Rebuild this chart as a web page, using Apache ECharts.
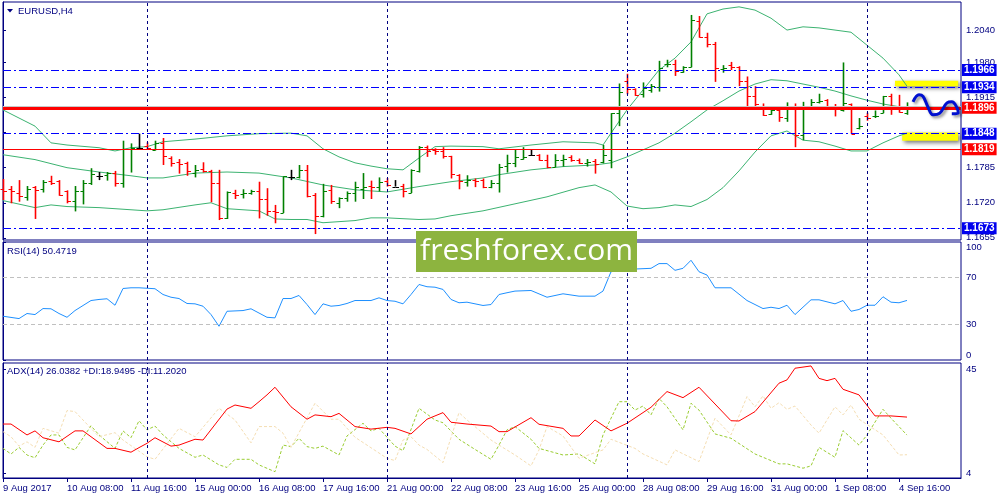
<!DOCTYPE html>
<html><head><meta charset="utf-8">
<script src="https://cdn.jsdelivr.net/npm/echarts@6/dist/echarts.min.js"></script>
<style>html,body{margin:0;padding:0;background:#fff}#c{width:1000px;height:500px}</style>
</head><body><div id="c"></div>
<script>
const opens=[1.1746,1.1746,1.1738,1.1730,1.1749,1.1745,1.1761,1.1761,1.1741,1.1724,1.1742,1.1757,1.1770,1.1772,1.1776,1.1756,1.1819,1.1821,1.1825,1.1818,1.1830,1.1803,1.1795,1.1793,1.1775,1.1782,1.1779,1.1757,1.1691,1.1738,1.1737,1.1739,1.1742,1.1727,1.1704,1.1701,1.1767,1.1767,1.1781,1.1735,1.1695,1.1743,1.1719,1.1728,1.1739,1.1745,1.1751,1.1749,1.1761,1.1750,1.1751,1.1739,1.1778,1.1823,1.1817,1.1815,1.1806,1.1772,1.1759,1.1763,1.1762,1.1750,1.1757,1.1788,1.1794,1.1802,1.1809,1.1809,1.1800,1.1787,1.1799,1.1804,1.1799,1.1793,1.1798,1.1795,1.1800,1.1887,1.1945,1.1930,1.1922,1.1929,1.1934,1.1977,1.1978,1.1963,1.1972,1.2057,1.2028,1.2015,1.1967,1.1975,1.1972,1.1945,1.1918,1.1895,1.1885,1.1892,1.1877,1.1895,1.1846,1.1895,1.1906,1.1910,1.1897,1.1891,1.1903,1.1858,1.1881,1.1880,1.1887,1.1917,1.1897,1.1887];
const highs=[1.1764,1.1751,1.1762,1.1751,1.1751,1.1762,1.1770,1.1762,1.1743,1.1751,1.1762,1.1784,1.1777,1.1777,1.1779,1.1835,1.1830,1.1848,1.1832,1.1835,1.1840,1.1806,1.1801,1.1796,1.1790,1.1795,1.1781,1.1781,1.1741,1.1744,1.1745,1.1744,1.1759,1.1747,1.1716,1.1769,1.1781,1.1790,1.1790,1.1738,1.1755,1.1753,1.1730,1.1741,1.1759,1.1775,1.1761,1.1767,1.1766,1.1762,1.1755,1.1782,1.1825,1.1826,1.1821,1.1823,1.1807,1.1773,1.1771,1.1765,1.1765,1.1762,1.1792,1.1809,1.1819,1.1823,1.1818,1.1810,1.1809,1.1810,1.1809,1.1808,1.1802,1.1801,1.1801,1.1827,1.1886,1.1941,1.1959,1.1932,1.1943,1.1940,1.1983,1.1985,1.1985,1.1973,1.2068,1.2066,1.2035,1.2018,1.1975,1.1981,1.1973,1.1954,1.1936,1.1904,1.1895,1.1893,1.1906,1.1904,1.1907,1.1912,1.1922,1.1912,1.1903,1.1980,1.1904,1.1877,1.1887,1.1891,1.1918,1.1922,1.1920,1.1906];
const lows=[1.1725,1.1719,1.1722,1.1724,1.1690,1.1739,1.1753,1.1733,1.1719,1.1704,1.1717,1.1753,1.1762,1.1761,1.1750,1.1748,1.1776,1.1819,1.1819,1.1817,1.1790,1.1787,1.1774,1.1770,1.1767,1.1776,1.1721,1.1688,1.1690,1.1727,1.1728,1.1735,1.1691,1.1696,1.1682,1.1701,1.1762,1.1765,1.1730,1.1662,1.1693,1.1718,1.1710,1.1722,1.1722,1.1727,1.1727,1.1741,1.1750,1.1750,1.1730,1.1738,1.1776,1.1805,1.1809,1.1802,1.1765,1.1745,1.1750,1.1749,1.1747,1.1747,1.1739,1.1776,1.1786,1.1800,1.1807,1.1798,1.1784,1.1786,1.1787,1.1796,1.1792,1.1787,1.1774,1.1793,1.1784,1.1862,1.1921,1.1918,1.1915,1.1924,1.1926,1.1971,1.1955,1.1961,1.1971,1.2026,1.2008,1.1944,1.1961,1.1966,1.1936,1.1895,1.1895,1.1881,1.1883,1.1870,1.1870,1.1823,1.1836,1.1893,1.1904,1.1895,1.1880,1.1889,1.1848,1.1856,1.1872,1.1877,1.1886,1.1883,1.1887,1.1883];
const closes=[1.1742,1.1741,1.1733,1.1745,1.1744,1.1759,1.1757,1.1735,1.1724,1.1742,1.1757,1.1774,1.1770,1.1775,1.1756,1.1819,1.1822,1.1821,1.1821,1.1830,1.1806,1.1793,1.1792,1.1778,1.1781,1.1778,1.1757,1.1691,1.1740,1.1735,1.1739,1.1742,1.1727,1.1705,1.1702,1.1769,1.1767,1.1781,1.1732,1.1695,1.1741,1.1724,1.1728,1.1739,1.1749,1.1749,1.1749,1.1759,1.1753,1.1750,1.1741,1.1781,1.1823,1.1815,1.1815,1.1807,1.1773,1.1761,1.1763,1.1761,1.1750,1.1757,1.1787,1.1793,1.1804,1.1805,1.1809,1.1800,1.1786,1.1800,1.1802,1.1799,1.1794,1.1796,1.1792,1.1809,1.1886,1.1926,1.1930,1.1920,1.1932,1.1936,1.1969,1.1978,1.1965,1.1972,1.2058,1.2028,1.2015,1.1969,1.1969,1.1972,1.1945,1.1918,1.1903,1.1883,1.1892,1.1878,1.1895,1.1846,1.1895,1.1907,1.1909,1.1899,1.1893,1.1904,1.1848,1.1862,1.1877,1.1881,1.1917,1.1897,1.1889,1.1897];

const bandUpper=[[0,1.1892],[4,1.1862],[6,1.1831],[8,1.1827],[12,1.1822],[14,1.1816],[16,1.1822],[18,1.1824],[20,1.1833],[24,1.1838],[28,1.1844],[32,1.1848],[36,1.1849],[38,1.1844],[40,1.1820],[42,1.1805],[44,1.1794],[46,1.1788],[48,1.1783],[50,1.1781],[52,1.1803],[54,1.1824],[56,1.1825],[60,1.1824],[62,1.1820],[66,1.1827],[70,1.1833],[74,1.1831],[75,1.1827],[76,1.1849],[78,1.1892],[80,1.1929],[82,1.1966],[84,1.1988],[86,1.2018],[88,1.2070],[90,1.2079],[92,1.2083],[94,1.2077],[96,1.2062],[98,1.2040],[100,1.2046],[102,1.2044],[104,1.2040],[106,1.2036],[108,1.2012],[110,1.1988],[112,1.1957],[113,1.1936]];
const bandMiddle=[[0,1.1809],[4,1.1800],[8,1.1785],[12,1.1777],[16,1.1770],[18,1.1766],[20,1.1766],[24,1.1775],[28,1.1777],[32,1.1775],[36,1.1766],[40,1.1753],[44,1.1744],[48,1.1740],[52,1.1750],[56,1.1759],[60,1.1766],[62,1.1772],[66,1.1781],[70,1.1787],[74,1.1790],[76,1.1794],[78,1.1805],[80,1.1818],[82,1.1831],[84,1.1849],[86,1.1870],[88,1.1892],[90,1.1909],[92,1.1927],[94,1.1940],[96,1.1948],[98,1.1946],[100,1.1940],[102,1.1934],[104,1.1927],[106,1.1918],[108,1.1910],[110,1.1903],[112,1.1898],[113,1.1896]];
const bandLower=[[0,1.1724],[4,1.1711],[6,1.1716],[8,1.1713],[12,1.1711],[16,1.1707],[18,1.1705],[20,1.1707],[24,1.1716],[26,1.1720],[28,1.1709],[32,1.1705],[34,1.1690],[36,1.1689],[38,1.1689],[40,1.1683],[44,1.1687],[46,1.1692],[48,1.1692],[52,1.1689],[54,1.1690],[56,1.1696],[60,1.1705],[64,1.1718],[68,1.1731],[72,1.1748],[74,1.1753],[76,1.1740],[78,1.1714],[80,1.1709],[82,1.1711],[84,1.1716],[86,1.1713],[88,1.1726],[90,1.1748],[92,1.1779],[94,1.1814],[96,1.1844],[98,1.1853],[100,1.1836],[102,1.1833],[104,1.1825],[106,1.1816],[108,1.1816],[110,1.1831],[112,1.1844],[113,1.1849]];

const rsiValues=[[0,37.1],[2,35.1],[3,39.4],[4,38.5],[5,43.6],[6,43.4],[7,39.4],[8,36.2],[9,41.9],[11,50.4],[12,51.3],[13,51.9],[14,46.4],[15,60.6],[16,61.2],[17,61.2],[19,60.4],[20,55.5],[21,53.2],[22,52.1],[23,47.9],[24,47.6],[25,45.6],[26,38.5],[27,28.6],[28,41.3],[30,41.9],[31,43.4],[33,36.2],[34,35.7],[35,52.1],[36,52.1],[37,54.7],[38,47.0],[39,38.5],[40,47.6],[41,45.6],[42,46.2],[43,47.9],[44,50.4],[46,50.4],[47,52.7],[48,50.4],[49,49.8],[50,47.6],[51,55.5],[52,64.0],[53,62.1],[54,61.7],[55,59.8],[56,51.3],[57,48.5],[58,49.0],[60,46.2],[61,47.0],[62,55.5],[63,57.0],[64,58.4],[66,58.9],[68,53.2],[70,56.1],[72,54.1],[74,54.1],[75,58.4],[76,74.8],[78,76.8],[81,77.7],[82,81.7],[83,81.7],[84,76.0],[85,77.7],[86,84.5],[87,74.8],[88,72.0],[89,61.2],[91,61.2],[93,50.4],[95,43.6],[96,44.7],[97,43.6],[98,46.4],[99,38.5],[101,51.0],[102,51.0],[104,47.6],[105,50.4],[106,41.3],[107,42.8],[108,46.4],[109,46.4],[110,53.6],[111,49.0],[112,48.5],[113,50.4719]];
const adxValues=[[0,23.3],[1,23.3],[3,19.0],[4,20.6],[5,17.9],[7,16.3],[9,20.6],[10,20.6],[13,13.7],[14,13.7],[16,12.2],[17,14.0],[18,15.7],[19,17.9],[21,14.6],[22,15.0],[24,17.3],[25,17.0],[28,29.2],[29,30.8],[31,29.5],[32,32.1],[33,34.8],[34,37.8],[36,30.1],[38,25.2],[39,26.9],[41,26.2],[42,27.5],[44,22.3],[46,21.3],[48,22.0],[49,21.6],[51,19.4],[53,25.2],[55,27.8],[56,24.0],[58,23.3],[61,22.5],[62,20.3],[63,20.3],[66,25.8],[67,23.2],[70,21.6],[71,18.6],[72,18.6],[74,24.9],[76,20.6],[78,23.6],[81,29.9],[83,36.1],[85,33.7],[87,37.8],[91,24.6],[92,24.5],[94,28.2],[97,39.4],[98,40.7],[99,45.3],[101,46.2],[102,41.3],[103,40.4],[104,41.3],[105,37.0],[107,34.8],[109,26.5],[111,26.5],[113,26.0382]];
const plusDI=[[0,13.7],[1,11.5],[2,14.1],[3,11.1],[4,10.0],[5,15.0],[6,19.0],[7,19.0],[8,14.1],[9,13.1],[11,22.6],[12,19.0],[14,13.7],[15,20.6],[16,17.9],[17,24.6],[18,21.0],[19,22.5],[20,19.0],[22,13.7],[24,10.2],[25,11.1],[27,7.2],[28,6.2],[29,9.4],[31,9.4],[32,7.2],[34,4.5],[35,15.0],[36,14.4],[37,17.7],[38,14.4],[39,13.7],[40,14.6],[42,11.1],[43,18.6],[45,23.6],[46,20.6],[47,21.6],[49,14.6],[50,12.8],[52,29.5],[54,24.9],[55,23.8],[57,17.3],[59,13.3],[61,9.4],[62,15.0],[63,21.0],[64,22.3],[66,17.3],[67,13.7],[70,11.1],[72,11.5],[74,7.6],[75,19.0],[77,32.1],[78,32.1],[79,28.8],[80,30.4],[81,26.9],[82,33.4],[83,30.1],[85,21.0],[86,31.5],[87,28.8],[89,19.4],[91,17.7],[94,11.5],[97,7.6],[98,7.6],[100,5.9],[101,6.8],[102,14.1],[104,10.2],[105,20.7],[107,15.0],[108,19.0],[110,29.1],[111,25.6],[113,18.9495]];
const minusDI=[[0,20.3],[1,18.3],[2,14.6],[3,16.3],[4,14.1],[5,21.6],[7,19.7],[8,28.6],[9,28.2],[12,18.3],[14,19.9],[15,17.0],[18,10.4],[19,9.4],[22,21.6],[24,18.3],[25,22.0],[27,29.5],[29,24.9],[31,15.9],[32,22.3],[34,22.3],[35,19.7],[36,14.1],[39,31.5],[41,25.2],[42,25.2],[44,18.1],[48,9.8],[49,8.9],[50,17.0],[51,18.3],[52,15.0],[53,13.3],[55,8.1],[57,27.8],[58,24.9],[61,17.0],[62,15.0],[64,11.1],[66,6.8],[67,13.1],[68,22.3],[70,18.6],[72,9.8],[75,13.1],[76,17.3],[79,13.7],[80,11.5],[83,7.2],[84,13.1],[87,8.5],[89,25.6],[91,19.0],[93,34.1],[94,30.1],[95,34.4],[96,29.5],[97,31.7],[98,29.1],[99,30.4],[101,22.9],[102,19.7],[104,30.1],[105,26.9],[106,30.8],[107,25.2],[110,19.0],[112,11.1],[113,11.202]];

const xTickIdx=[0,8,16,24,32,40,48,56,64,72,80,88,96,104,112];
const xTickLabels=['9 Aug 2017','10 Aug 08:00','11 Aug 16:00','15 Aug 00:00','16 Aug 08:00','17 Aug 16:00','21 Aug 00:00','22 Aug 08:00','23 Aug 16:00','25 Aug 00:00','28 Aug 08:00','29 Aug 16:00','31 Aug 00:00','1 Sep 08:00','4 Sep 16:00'];
const priceTicks=[1.1655,1.1720,1.1785,1.1850,1.1915,1.1980,1.2040];
const rsiTicks=[0,30,70,100];
const adxTicks=[4,45];
const weekStarts=[18,48,78,108];
const blueLevels=[1.1966,1.1934,1.1848,1.1673];
const redLevels=[1.1896,1.1819];
const bidLine=1.1899;
const forecastWave=[[113.75,1.1907],[114.5,1.1920],[115,1.1917],[115.6,1.1898],[116.25,1.1883],[117.1,1.1886],[118,1.1905],[118.6,1.1907],[119.25,1.1896],[119.4,1.1886],[118.6,1.1885]];
const highlightZones=[[[111.5,1.1946],[119.4,1.1936]],[[112.4,1.1850],[119.4,1.1835]]];

const NAVY='#000080';
const FONT='Liberation Sans';
const xMax=119.75;
const labelMap={};xTickIdx.forEach((v,k)=>labelMap[v]=xTickLabels[k]);

const chart=echarts.init(document.getElementById('c'));

const weekLine={silent:true,symbol:['none','none'],label:{show:false},animation:false,precision:4,
  lineStyle:{color:NAVY,type:[3,3],width:1},data:weekStarts.map(v=>({xAxis:v}))};

const boxLabel=(bg)=>({show:true,position:'end',distance:1,backgroundColor:bg,color:'#fff',padding:[1,2,0,2],fontFamily:FONT,fontSize:10,fontWeight:'bold',lineHeight:11,formatter:p=>Number(p.value).toFixed(4)});
const levelData=[{yAxis:bidLine,lineStyle:{color:'#c8c8c8',width:1,type:'solid'},label:{show:false}}];
blueLevels.forEach(v=>levelData.push({yAxis:v,lineStyle:{color:'#0000ff',width:1,type:[8,3,2,3]},label:boxLabel('#0000ee')}));
redLevels.forEach((v,k)=>levelData.push({yAxis:v,lineStyle:{color:'#ff0000',width:k===0?3:1,type:'solid'},label:boxLabel('#ff0000')}));

const hiddenX=(g)=>({gridIndex:g,type:'value',min:0,max:xMax,axisLine:{show:false},axisTick:{show:false},axisLabel:{show:false},splitLine:{show:false}});

const option={
  animation:false,
  backgroundColor:'#fff',
  grid:[
    {left:3,right:39,top:2,height:238,show:true,borderColor:NAVY,borderWidth:1},
    {left:3,right:39,top:242,height:118,show:true,borderColor:NAVY,borderWidth:1},
    {left:3,right:39,top:363,height:115,show:true,borderColor:NAVY,borderWidth:1}
  ],
  xAxis:[hiddenX(0),hiddenX(1),
    {gridIndex:2,type:'value',min:0,max:xMax,
     axisLine:{show:true,lineStyle:{color:NAVY}},
     axisTick:{show:true,customValues:xTickIdx,length:4,lineStyle:{color:NAVY}},
     axisLabel:{customValues:xTickIdx,formatter:v=>labelMap[Math.round(v)]||'',align:'left',color:NAVY,fontFamily:FONT,fontSize:9.5,margin:5},
     splitLine:{show:false}}],
  yAxis:[
    {gridIndex:0,type:'value',position:'right',min:1.1651,max:1.2092,
     axisLine:{show:true,lineStyle:{color:NAVY}},
     axisTick:{show:true,customValues:priceTicks,length:3,lineStyle:{color:NAVY}},
     axisLabel:{customValues:priceTicks,formatter:v=>v.toFixed(4),color:NAVY,fontFamily:FONT,fontSize:9.5,margin:5},
     splitLine:{show:false}},
    {gridIndex:1,type:'value',position:'right',min:0,max:100,
     axisLine:{show:true,lineStyle:{color:NAVY}},
     axisTick:{show:true,customValues:rsiTicks,length:3,lineStyle:{color:NAVY}},
     axisLabel:{customValues:rsiTicks,color:NAVY,fontFamily:FONT,fontSize:9.5,margin:5,verticalAlignMaxLabel:'top',verticalAlignMinLabel:'bottom'},
     splitLine:{show:false}},
    {gridIndex:2,type:'value',position:'right',min:2.03,max:47.36,
     axisLine:{show:true,lineStyle:{color:NAVY}},
     axisTick:{show:true,customValues:adxTicks,length:3,lineStyle:{color:NAVY}},
     axisLabel:{customValues:adxTicks,color:NAVY,fontFamily:FONT,fontSize:9.5,margin:5},
     splitLine:{show:false}}
  ],
  series:[
    {type:'line',name:'upper',xAxisIndex:0,yAxisIndex:0,data:bandUpper,showSymbol:false,z:1,
     lineStyle:{color:'#3cb371',width:1},itemStyle:{color:'#3cb371'}},
    {type:'line',name:'middle',xAxisIndex:0,yAxisIndex:0,data:bandMiddle,showSymbol:false,z:1,
     lineStyle:{color:'#3cb371',width:1},itemStyle:{color:'#3cb371'},
     markLine:weekLine,
     markArea:{silent:true,itemStyle:{color:'#ffff00',shadowBlur:4,shadowColor:'rgba(0,0,0,0.55)',shadowOffsetX:2,shadowOffsetY:2},
       data:highlightZones.map(z=>[{coord:z[0]},{coord:z[1]}])}},
    {type:'line',name:'lower',xAxisIndex:0,yAxisIndex:0,data:bandLower,showSymbol:false,z:1,
     lineStyle:{color:'#3cb371',width:1},itemStyle:{color:'#3cb371'}},
    {type:'custom',name:'EURUSD',xAxisIndex:0,yAxisIndex:0,z:3,
     data:opens.map((o,i)=>[i,o,highs[i],lows[i],closes[i]]),
     encode:{x:0,y:[1,2,3,4]},
     renderItem:function(params,api){
       const i=api.value(0),o=api.value(1),h=api.value(2),l=api.value(3),c=api.value(4);
       const pH=api.coord([i,h]),pL=api.coord([i,l]),pO=api.coord([i,o]),pC=api.coord([i,c]);
       const col=c>o?'#008000':(c<o?'#ff0000':'#000000');
       const x=Math.round(pH[0])+0.5;
       const yo=Math.round(pO[1])+0.5,yc=Math.round(pC[1])+0.5;
       return {type:'group',children:[
         {type:'line',shape:{x1:x,y1:pH[1],x2:x,y2:pL[1]},style:{stroke:col,lineWidth:1.6}},
         {type:'line',shape:{x1:x-3,y1:yo,x2:x,y2:yo},style:{stroke:col,lineWidth:1}},
         {type:'line',shape:{x1:x,y1:yc,x2:x+3.5,y2:yc},style:{stroke:col,lineWidth:1}}
       ]};
     }},
    {type:'line',name:'forecast',xAxisIndex:0,yAxisIndex:0,data:forecastWave,showSymbol:false,smooth:0.4,z:6,
     lineStyle:{color:'#0010d0',width:3,shadowBlur:3,shadowColor:'rgba(0,0,0,0.45)',shadowOffsetX:2,shadowOffsetY:2},
     itemStyle:{color:'#0010d0'},
     markLine:{silent:true,symbol:['none','none'],animation:false,precision:4,data:levelData}},
    {type:'line',name:'RSI',xAxisIndex:1,yAxisIndex:1,data:rsiValues,showSymbol:false,z:3,
     lineStyle:{color:'#1e90ff',width:1},itemStyle:{color:'#1e90ff'},
     markLine:{silent:true,symbol:['none','none'],label:{show:false},animation:false,precision:4,
       data:[...weekStarts.map(v=>({xAxis:v,lineStyle:{color:NAVY,type:[3,3],width:1}})),
             {yAxis:30,lineStyle:{color:'#c0c0c0',type:[4,3],width:1}},{yAxis:70,lineStyle:{color:'#c0c0c0',type:[4,3],width:1}}]}},
    {type:'line',name:'ADX',xAxisIndex:2,yAxisIndex:2,data:adxValues,showSymbol:false,z:4,
     lineStyle:{color:'#ff0000',width:1},itemStyle:{color:'#ff0000'},markLine:weekLine},
    {type:'line',name:'+DI',xAxisIndex:2,yAxisIndex:2,data:plusDI,showSymbol:false,z:3,
     lineStyle:{color:'#9acd32',width:1,type:[3,2]},itemStyle:{color:'#9acd32'}},
    {type:'line',name:'-DI',xAxisIndex:2,yAxisIndex:2,data:minusDI,showSymbol:false,z:3,
     lineStyle:{color:'#f5deb3',width:1,type:[3,2]},itemStyle:{color:'#f5deb3'}}
  ],
  graphic:[
    {type:'polygon',shape:{points:[[7,9],[13,9],[10,12.5]]},style:{fill:NAVY},z:50},
    {type:'text',x:18,y:11,style:{text:'EURUSD,H4',fill:NAVY,font:'9.5px "Liberation Sans"',textVerticalAlign:'middle'},z:50},
    {type:'text',x:7,y:251,style:{text:'RSI(14) 50.4719',fill:NAVY,font:'9.5px "Liberation Sans"',textVerticalAlign:'middle'},z:50},
    {type:'text',x:7,y:371,style:{text:'ADX(14) 26.0382 +DI:18.9495 -DI:11.2020',fill:NAVY,font:'9.5px "Liberation Sans"',textVerticalAlign:'middle'},z:50},
    {type:'rect',shape:{x:416,y:231,width:221,height:41},style:{fill:'#8db43f'},z:60},
    {type:'text',x:526.5,y:251.5,style:{text:'freshforex.com',fill:'#ffffff',font:'30px "Open Sans"',textAlign:'center',textVerticalAlign:'middle'},z:61}
  ]
};
chart.setOption(option);
</script></body></html>
